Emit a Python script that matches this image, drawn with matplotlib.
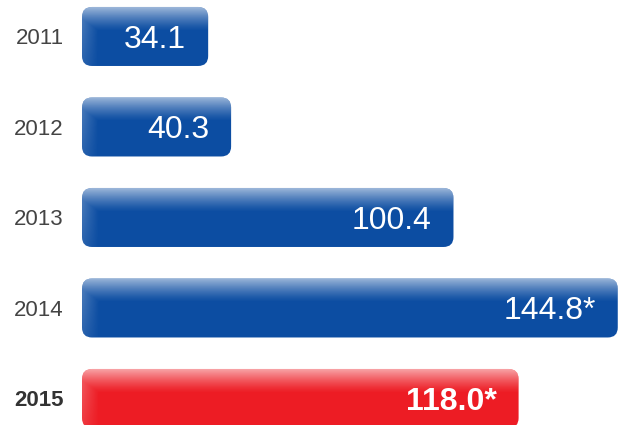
import numpy as np
import matplotlib
matplotlib.use("Agg")
from matplotlib import pyplot as plt
from matplotlib.patches import FancyBboxPatch

# data
years = ['2011', '2012', '2013', '2014', '2015']
values = [34.1, 40.3, 100.4, 144.8, 118.0]
value_labels = ['34.1', '40.3', '100.4', '144.8*', '118.0*']
bar_colors = ['#0c4da2', '#0c4da2', '#0c4da2', '#0c4da2', '#ed1c24']

plt.rcParams["font.family"] = ['Liberation Sans', 'DejaVu Sans']

fig = plt.figure(figsize=(6.21, 4.25), dpi=100)
ax = fig.add_axes([82 / 621, 0, 539 / 621, 1])

px_x = 3.70          # pixels per value unit
px_y = 90.5          # pixels per category step
bar_h = 59 / px_y
xmax = 539 / px_x
ylim = (4.293, -0.403)

# glossy overlay: light top band + light left strip
ny, nx = 60, 200
yy = np.linspace(0, 1, ny)[:, None]
top = np.clip(1 - yy / 0.42, 0, 1) ** 1.3 * 0.62


def overlay(width_px):
    xx = np.arange(nx)[None, :] / (nx - 1) * width_px
    left = np.clip(1 - xx / 16, 0, 1) * 0.28 * (1 - 0.6 * yy)
    a = np.maximum(top, left)
    img = np.ones((ny, nx, 4))
    img[..., 3] = a
    return img


for i, (v, c) in enumerate(zip(values, bar_colors)):
    y0 = i - bar_h / 2
    patch = FancyBboxPatch((0, y0), v, bar_h,
                           boxstyle="round,pad=0,rounding_size=2.7",
                           mutation_aspect=(1 / px_y) / (1 / px_x),
                           facecolor=c, edgecolor='none')
    ax.add_patch(patch)
    im = ax.imshow(overlay(v * px_x), extent=(0, v, i + bar_h / 2, y0),
                   origin='upper', aspect='auto', interpolation='bilinear',
                   zorder=3)
    im.set_clip_path(patch)
    bold = (i == len(values) - 1)
    ax.annotate(value_labels[i], xy=(v, i), xytext=(-22, 0),
                textcoords='offset pixels', ha='right', va='center_baseline',
                color='white', fontsize=23,
                fontweight='bold' if bold else 'normal', zorder=4)

ax.set_xlim(0, xmax)
ax.set_ylim(*ylim)
ax.set_yticks(range(len(years)))
ax.set_yticklabels(years)
for i, t in enumerate(ax.get_yticklabels()):
    t.set_fontsize(16)
    t.set_color('#444444' if i < len(years) - 1 else '#333333')
    if i == len(years) - 1:
        t.set_fontweight('bold')
ax.tick_params(axis='y', length=0, pad=13)
ax.set_xticks([])
for s in ax.spines.values():
    s.set_visible(False)

fig.savefig('out.png', dpi=100)
plt.close()
